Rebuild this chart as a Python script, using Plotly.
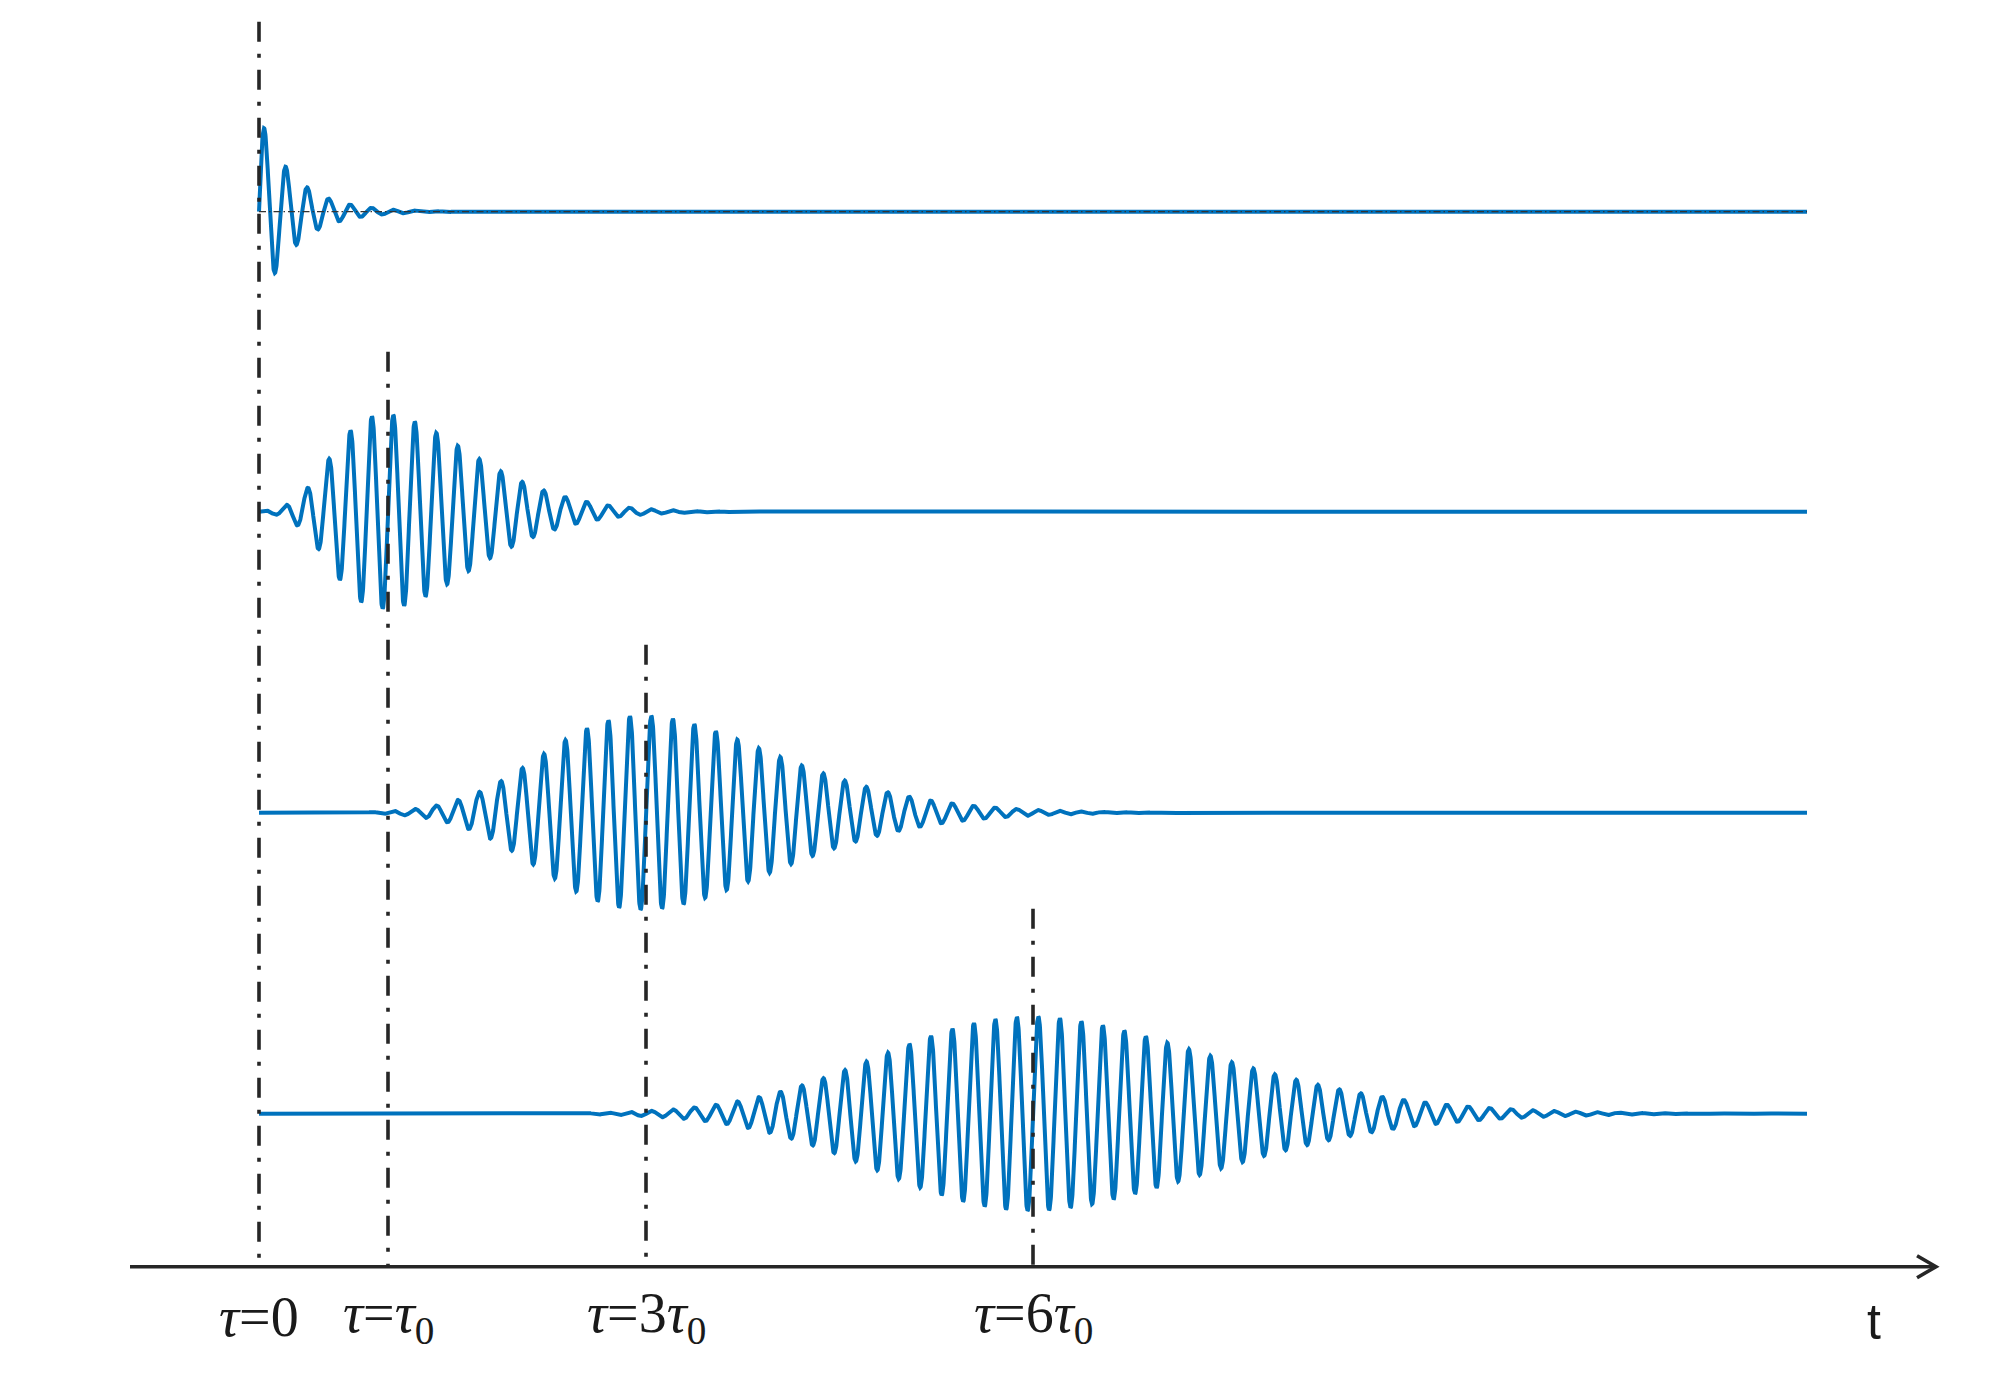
import numpy as np
import plotly.graph_objects as go

# ---- data (time in units of tau0) ----
delays = [0, 1, 3, 6]                       # tau / tau0 for each trace
labels = ["<i>τ</i>=0", "<i>τ</i>=<i>τ</i><sub>0</sub>",
          "<i>τ</i>=3<i>τ</i><sub>0</sub>", "<i>τ</i>=6<i>τ</i><sub>0</sub>"]
baselines = [10.55, 7.55, 4.54, 1.53]        # vertical offset of each trace
peak_amp = [0.97, 0.97, 0.97, 0.97]          # envelope maximum
rise_width = [0.0, 0.55, 1.07, 1.62]         # envelope rise width (tau0)
rise_power = [2.0, 2.7, 2.3, 2.1]
decay_width = [0.27, 0.946, 1.457, 1.985]    # envelope decay width (tau0)
decay_power = [1.0, 1.7, 1.75, 1.8]
carrier_period = 1 / 6                       # oscillation period (tau0)
t_end = 12.0                                 # traces run from t=0 to t_end
line_tops = [12.45, 9.15, 6.22, 3.58]        # top of each dash-dot marker
axis_start, axis_end = -1.0, 13.0
axis_label = "t"

BLUE = "#0072BD"
DARK = "#262626"

t = np.linspace(0, t_end, 8001)
fig = go.Figure()

for i, tau in enumerate(delays):
    dt = t - tau
    if rise_width[i] > 0:
        rise = np.exp(-(np.abs(dt) / rise_width[i]) ** rise_power[i])
    else:
        rise = np.zeros_like(dt)
    decay = np.exp(-(np.abs(dt) / decay_width[i]) ** decay_power[i])
    env = np.where(dt < 0, rise, decay)
    y = baselines[i] + peak_amp[i] * env * np.sin(2 * np.pi * dt / carrier_period)
    fig.add_trace(go.Scatter(x=t, y=y, mode="lines",
                             line=dict(color=BLUE, width=4),
                             hoverinfo="skip", showlegend=False))

# thin dash-dot reference line along the first trace
fig.add_trace(go.Scatter(x=[0, t_end], y=[baselines[0], baselines[0]], mode="lines",
                         line=dict(color="#333333", width=1.2, dash="7px,3px,1.5px,3px"),
                         hoverinfo="skip", showlegend=False))

# vertical dash-dot markers
for i, tau in enumerate(delays):
    fig.add_trace(go.Scatter(x=[tau, tau], y=[line_tops[i], 0], mode="lines",
                             line=dict(color=DARK, width=3.6, dash="20px,12px,4px,12px"),
                             hoverinfo="skip", showlegend=False))

# time axis with open arrow head
fig.add_trace(go.Scatter(x=[axis_start, axis_end], y=[0, 0], mode="lines",
                         line=dict(color=DARK, width=3.6),
                         hoverinfo="skip", showlegend=False))
fig.add_trace(go.Scatter(x=[axis_end - 0.147, axis_end, axis_end - 0.147],
                         y=[0.11, 0, -0.11], mode="lines",
                         line=dict(color=DARK, width=3.6),
                         hoverinfo="skip", showlegend=False))

for tau, lab in zip(delays, labels):
    fig.add_annotation(x=tau, y=-0.50, text=lab, showarrow=False,
                       xanchor="center", yanchor="middle",
                       font=dict(family="Liberation Serif, Times New Roman, serif",
                                 size=56, color="#1a1a1a"))

fig.add_annotation(x=12.52, y=-0.55, text=axis_label, showarrow=False,
                   xanchor="center", yanchor="middle",
                   font=dict(family="Liberation Sans, Arial, sans-serif",
                             size=50, color="#1a1a1a"))

fig.update_layout(
    width=2000, height=1373,
    margin=dict(l=0, r=0, t=0, b=0, pad=0),
    paper_bgcolor="white", plot_bgcolor="white",
    xaxis=dict(range=[-259 / 129, (2000 - 259) / 129], visible=False, fixedrange=True),
    yaxis=dict(range=[-1.063, 12.667], visible=False, fixedrange=True),
    showlegend=False,
)

fig.write_html("out.html")
